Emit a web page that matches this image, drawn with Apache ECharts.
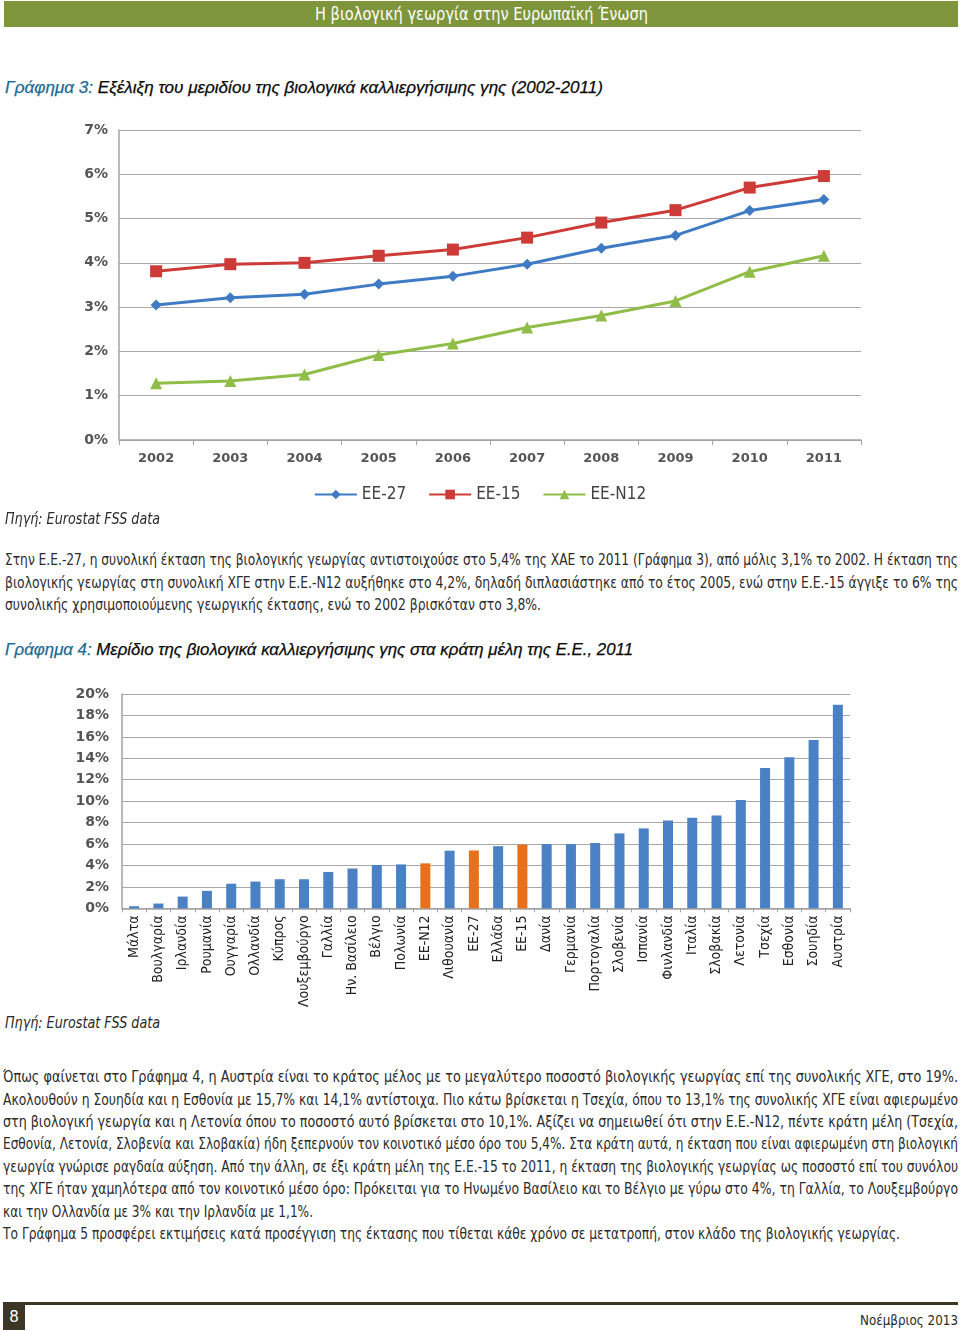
<!DOCTYPE html>
<html>
<head>
<meta charset="utf-8">
<script src="https://cdn.jsdelivr.net/npm/echarts@6/dist/echarts.min.js"></script>
<style>
html,body{margin:0;padding:0;background:#fff;}
body{width:960px;height:1331px;position:relative;overflow:hidden;font-family:"Liberation Sans Narrow","DejaVu Sans Condensed","Roboto",sans-serif;color:#2b2b2b;}
.hdr{position:absolute;left:4px;top:1px;width:954px;height:26px;background:#7e953c;}
.ln{position:absolute;height:22px;line-height:22px;white-space:nowrap;font-size:15.5px;}
.ln span{display:inline-block;transform-origin:0 50%;white-space:nowrap;}
.ttl{font-style:italic;font-size:17px;color:#0a0a0a;font-family:"Liberation Sans","Roboto",sans-serif;-webkit-text-stroke:0.25px #0a0a0a;}
.ttl b{color:#1b6a94;font-weight:normal;-webkit-text-stroke:0.25px #1b6a94;}
.src{font-style:italic;font-size:15px;}
#c1{position:absolute;left:0;top:110px;width:960px;height:400px;}
#c2{position:absolute;left:0;top:680px;width:960px;height:330px;}
.fline{position:absolute;left:3px;top:1302px;width:955px;height:3px;background:#3b3626;}
.fbox{position:absolute;left:3px;top:1302px;width:22px;height:28px;background:#3b3626;color:#fff;font-size:17px;line-height:28px;text-align:center;font-family:"Liberation Sans Narrow","Roboto",sans-serif;}
</style>
</head>
<body>
<div class="hdr"></div>
<div class="ln" style="left:315px;top:3px;color:#fff;font-size:17px;" data-w="333"><span>Η βιολογική γεωργία στην Ευρωπαϊκή Ένωση</span></div>

<div class="ln ttl" style="left:5px;top:77px;" data-w="598"><span><b>Γράφημα 3:</b> Εξέλιξη του μεριδίου της βιολογικά καλλιεργήσιμης γης (2002-2011)</span></div>
<div id="c1"></div>
<div class="ln src" style="left:5px;top:508px;" data-w="155"><span>Πηγή: Eurostat FSS data</span></div>

<div class="ln j" style="left:5px;top:549px;" data-w="953"><span>Στην Ε.Ε.-27, η συνολική έκταση της βιολογικής γεωργίας αντιστοιχούσε στο 5,4% της ΧΑΕ το 2011 (Γράφημα 3), από μόλις 3,1% το 2002. Η έκταση της</span></div>
<div class="ln j" style="left:5px;top:572px;" data-w="953"><span>βιολογικής γεωργίας στη συνολική ΧΓΕ στην Ε.Ε.-Ν12 αυξήθηκε στο 4,2%, δηλαδή διπλασιάστηκε από το έτος 2005, ενώ στην Ε.Ε.-15 άγγιξε το 6% της</span></div>
<div class="ln" style="left:5px;top:594px;" data-w="536"><span>συνολικής χρησιμοποιούμενης γεωργικής έκτασης, ενώ το 2002 βρισκόταν στο 3,8%.</span></div>

<div class="ln ttl" style="left:5px;top:639px;" data-w="628"><span><b>Γράφημα 4:</b> Μερίδιο της βιολογικά καλλιεργήσιμης γης στα κράτη μέλη της Ε.Ε., 2011</span></div>
<div id="c2"></div>
<div class="ln src" style="left:5px;top:1012px;" data-w="155"><span>Πηγή: Eurostat FSS data</span></div>

<div class="ln j" style="left:3px;top:1066px;" data-w="955"><span>Όπως φαίνεται στο Γράφημα 4, η Αυστρία είναι το κράτος μέλος με το μεγαλύτερο ποσοστό βιολογικής γεωργίας επί της συνολικής  ΧΓΕ,  στο 19%.</span></div>
<div class="ln j" style="left:3px;top:1089px;" data-w="955"><span>Ακολουθούν η Σουηδία και η Εσθονία με 15,7% και 14,1% αντίστοιχα. Πιο κάτω βρίσκεται η Τσεχία, όπου το 13,1% της συνολικής ΧΓΕ είναι αφιερωμένο</span></div>
<div class="ln j" style="left:3px;top:1111px;" data-w="955"><span>στη βιολογική γεωργία και η Λετονία όπου το ποσοστό αυτό βρίσκεται στο 10,1%. Αξίζει να σημειωθεί ότι στην Ε.Ε.-Ν12, πέντε κράτη μέλη (Τσεχία,</span></div>
<div class="ln j" style="left:3px;top:1133px;" data-w="955"><span>Εσθονία, Λετονία, Σλοβενία και Σλοβακία) ήδη ξεπερνούν τον κοινοτικό μέσο όρο του 5,4%. Στα κράτη αυτά, η έκταση που είναι αφιερωμένη στη βιολογική</span></div>
<div class="ln j" style="left:3px;top:1156px;" data-w="955"><span>γεωργία γνώρισε ραγδαία αύξηση. Από την άλλη, σε έξι κράτη μέλη της Ε.Ε.-15 το 2011, η έκταση της βιολογικής γεωργίας ως ποσοστό επί του συνόλου</span></div>
<div class="ln j" style="left:3px;top:1178px;" data-w="955"><span>της ΧΓΕ ήταν χαμηλότερα από τον κοινοτικό μέσο όρο: Πρόκειται για το Ηνωμένο Βασίλειο και το Βέλγιο με γύρω στο 4%, τη Γαλλία, το Λουξεμβούργο</span></div>
<div class="ln" style="left:3px;top:1201px;" data-w="310"><span>και την Ολλανδία με 3% και την Ιρλανδία με 1,1%.</span></div>
<div class="ln" style="left:3px;top:1223px;" data-w="897"><span>Το Γράφημα 5 προσφέρει εκτιμήσεις κατά προσέγγιση της έκτασης που τίθεται κάθε χρόνο σε μετατροπή, στον κλάδο της βιολογικής γεωργίας.</span></div>

<div class="fline"></div>
<div class="fbox">8</div>
<div class="ln" style="left:860px;top:1309px;font-size:14.5px;" data-w="98"><span>Νοέμβριος 2013</span></div>

<script>
// ---- Chart 3 data ----
const years = ['2002','2003','2004','2005','2006','2007','2008','2009','2010','2011'];
const ee27  = [3.05, 3.21, 3.29, 3.52, 3.70, 3.97, 4.33, 4.62, 5.18, 5.43];
const ee15  = [3.81, 3.97, 4.00, 4.16, 4.30, 4.57, 4.91, 5.19, 5.70, 5.96];
const eeN12 = [1.28, 1.33, 1.48, 1.92, 2.18, 2.54, 2.81, 3.14, 3.80, 4.16];
const lineNames = ['EE-27', 'EE-15', 'EE-N12'];
const yTicks1 = [0,1,2,3,4,5,6,7];

// ---- Chart 4 data ----
const countries = ['Μάλτα','Βουλγαρία','Ιρλανδία','Ρουμανία','Ουγγαρία','Ολλανδία','Κύπρος','Λουξεμβούργο','Γαλλία','Ην. Βασίλειο','Βέλγιο','Πολωνία','ΕΕ-Ν12','Λιθουανία','ΕΕ-27','Ελλάδα','ΕΕ-15','Δανία','Γερμανία','Πορτογαλία','Σλοβενία','Ισπανία','Φινλανδία','Ιταλία','Σλοβακία','Λετονία','Τσεχία','Εσθονία','Σουηδία','Αυστρία'];
const shares = [0.2, 0.45, 1.1, 1.63, 2.3, 2.5, 2.72, 2.72, 3.4, 3.72, 4.05, 4.1, 4.2, 5.38, 5.4, 5.8, 5.95, 6.0, 6.0, 6.1, 7.0, 7.46, 8.2, 8.46, 8.67, 10.1, 13.1, 14.1, 15.7, 19.0];
const aggregates = ['ΕΕ-Ν12','ΕΕ-27','ΕΕ-15'];
const yTicks2 = [0,2,4,6,8,10,12,14,16,18,20];

const axisGray = '#a3a3a3';
const lblStyle = {fontFamily:'DejaVu Sans', fontWeight:'bold', fontSize:13, color:'#555'};
const yLblStyle = {fontFamily:'DejaVu Sans', fontWeight:'bold', fontSize:14, color:'#555'};

const c1 = echarts.init(document.getElementById('c1'), null, {renderer:'canvas'});
c1.setOption({
  animation:false,
  grid:{left:119, right:99, top:20, bottom:70},
  legend:{
    top:371, left:'center', itemWidth:42, itemHeight:12, itemGap:22,
    textStyle:{fontFamily:'Liberation Sans Narrow, DejaVu Sans Condensed, sans-serif', fontSize:17, color:'#444'},
    data:lineNames
  },
  xAxis:{
    type:'category', data:years, boundaryGap:true,
    axisLine:{lineStyle:{color:axisGray, width:1.5}},
    axisTick:{show:true, length:5, lineStyle:{color:axisGray}},
    axisLabel:Object.assign({margin:12}, lblStyle)
  },
  yAxis:{
    type:'value', min:yTicks1[0], max:yTicks1[yTicks1.length-1], interval:1,
    axisLine:{show:true, lineStyle:{color:axisGray, width:1.5}},
    axisTick:{show:false},
    splitLine:{lineStyle:{color:'#a8a8a8', width:1}},
    axisLabel:Object.assign({margin:11, formatter:v=>v+'%'}, yLblStyle)
  },
  series:[
    {name:lineNames[0], type:'line', data:ee27, symbol:'diamond', symbolSize:11,
     lineStyle:{color:'#3e7bc4', width:3}, itemStyle:{color:'#3e7bc4'}},
    {name:lineNames[1], type:'line', data:ee15, symbol:'rect', symbolSize:12,
     lineStyle:{color:'#cc3b38', width:3}, itemStyle:{color:'#cc3b38'}},
    {name:lineNames[2], type:'line', data:eeN12, symbol:'triangle', symbolSize:12,
     lineStyle:{color:'#8fbd48', width:3}, itemStyle:{color:'#8fbd48'}}
  ]
});

const c2 = echarts.init(document.getElementById('c2'), null, {renderer:'canvas'});
c2.setOption({
  animation:false,
  grid:{left:122, right:110, top:14, bottom:95},
  xAxis:{
    type:'category', data:countries, boundaryGap:true,
    axisLine:{lineStyle:{color:axisGray, width:1.5}},
    axisTick:{show:true, length:4, lineStyle:{color:axisGray}},
    axisLabel:{interval:0, rotate:90, margin:7, fontFamily:'Liberation Sans Narrow, DejaVu Sans Condensed, sans-serif', fontSize:14, color:'#222'}
  },
  yAxis:{
    type:'value', min:yTicks2[0], max:yTicks2[yTicks2.length-1], interval:2,
    axisLine:{show:true, lineStyle:{color:axisGray, width:1.5}},
    axisTick:{show:false},
    splitLine:{lineStyle:{color:'#a8a8a8', width:1}},
    axisLabel:Object.assign({margin:13, formatter:v=>v+'%'}, yLblStyle)
  },
  series:[{
    type:'bar', barWidth:10,
    data:shares.map((v,i)=>({value:v, itemStyle:{color: aggregates.includes(countries[i]) ? '#e8701c' : '#4a80c4'}}))
  }]
});

// fit text lines to measured widths
document.querySelectorAll('.ln').forEach(el=>{
  const target = +el.dataset.w;
  const span = el.firstElementChild;
  const nat = span.getBoundingClientRect().width;
  if (!target || !nat) return;
  if (nat > target || !el.classList.contains('j')) {
    span.style.transform = 'scaleX(' + (target/nat) + ')';
  } else {
    const n = (span.textContent.match(/ /g)||[]).length;
    if (n) span.style.wordSpacing = ((target-nat)/n) + 'px';
  }
});
</script>
</body>
</html>
